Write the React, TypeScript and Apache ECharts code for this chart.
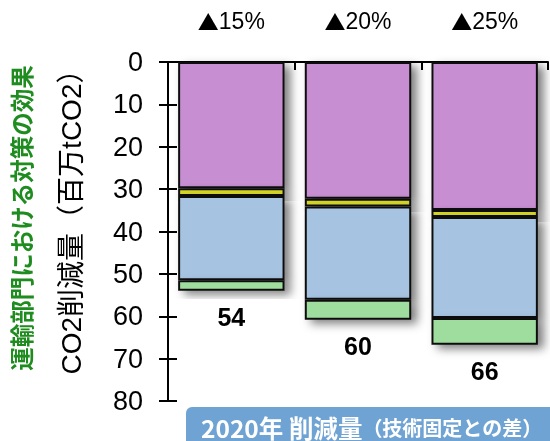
import React, { useEffect, useRef } from "react";
import * as echarts from "echarts";

const categories = ["▲15%", "▲20%", "▲25%"];
const purpleVals = [29.8, 32.3, 34.9];
const yellowVals = [1.8, 1.8, 1.7];
const blueVals = [19.9, 22.0, 23.8];
const greenVals = [2.5, 4.7, 6.3];
const totalLabels = ["54", "60", "66"];
const yTicks = { min: 0, max: 80, interval: 10 };

const FONT_LATIN = "'Liberation Sans', Arial, 'Noto Sans CJK JP', sans-serif";
const FONT_CJK = "'Noto Sans CJK JP', 'Liberation Sans', sans-serif";

export default function App() {
  const ref = useRef<HTMLDivElement>(null);
  useEffect(() => {
    if (!ref.current) return;
    const chart = echarts.init(ref.current, null, { renderer: "svg" });
    const border = { borderColor: "#111", borderWidth: 2, shadowColor: "rgba(0,0,0,0.5)", shadowBlur: 10, shadowOffsetX: 6, shadowOffsetY: 4 };
    const mk = (name: string, data: number[], color: string) => ({
      name,
      type: "bar",
      stack: "s",
      data,
      barCategoryGap: "16%",
      itemStyle: { color, ...border },
      yAxisIndex: 0,
    });
    const sums = purpleVals.map((v, i) => v + yellowVals[i] + blueVals[i] + greenVals[i]);
    chart.setOption({
      animation: false,
      grid: { left: 168, right: 2, top: 62, bottom: 40 },
      xAxis: {
        type: "category",
        position: "top",
        data: categories,
        axisLine: { show: true, lineStyle: { color: "#000", width: 2 } },
        axisTick: { show: true, inside: true, length: 8, lineStyle: { color: "#000", width: 2 } },
        axisLabel: {
          margin: 30,
          color: "#000",
          formatter: (v: string) => "{t|▲}{n|" + v.replace("▲", "") + "}",
          rich: {
            t: { fontSize: 21, color: "#000", fontFamily: FONT_CJK },
            n: { fontSize: 23, color: "#000", fontFamily: FONT_LATIN },
          },
        },
      },
      yAxis: [
        {
          type: "value",
          inverse: true,
          ...yTicks,
          position: "left",
          axisLine: { show: true, lineStyle: { color: "#000", width: 2 } },
          axisTick: { show: true, length: 9, lineStyle: { color: "#000", width: 2 } },
          axisLabel: { margin: 25, fontSize: 27, color: "#000", fontFamily: FONT_LATIN },
          splitLine: { show: false },
        },
        {
          type: "value",
          inverse: true,
          ...yTicks,
          position: "left",
          axisLine: { show: false },
          axisTick: { show: true, inside: true, length: 9, lineStyle: { color: "#000", width: 2 } },
          axisLabel: { show: false },
          splitLine: { show: false },
        },
      ],
      series: [
        mk("purple", purpleVals, "#c88ed2"),
        mk("yellow", yellowVals, "#d6d628"),
        mk("blue", blueVals, "#a6c4e2"),
        mk("green", greenVals, "#9edd9e"),
        {
          type: "scatter",
          data: sums,
          symbolSize: 0,
          z: 10,
          itemStyle: { color: "#000", opacity: 1 },
          label: {
            show: true,
            position: "inside",
            offset: [0, 26],
            formatter: (p: any) => totalLabels[p.dataIndex],
            fontSize: 25,
            fontWeight: "bold",
            color: "#000",
            opacity: 1,
            textBorderWidth: 0,
            fontFamily: FONT_LATIN,
          },
        },
      ],
      graphic: [
        {
          type: "text",
          x: 21,
          y: 218,
          rotation: Math.PI / 2,
          style: {
            text: "運輸部門における対策の効果",
            fill: "#1f8c1f",
            fontSize: 23.5,
            fontWeight: "bold",
            fontFamily: FONT_CJK,
            align: "center",
            verticalAlign: "middle",
          },
        },
        {
          type: "text",
          x: 71,
          y: 215,
          rotation: Math.PI / 2,
          style: {
            text: "CO2削減量（百万tCO2）",
            fill: "#000",
            fontSize: 28,
            fontFamily: FONT_LATIN,
            align: "center",
            verticalAlign: "middle",
          },
        },
        {
          type: "rect",
          shape: { x: 186, y: 407, width: 400, height: 44, r: 6 },
          style: { fill: "#6fa3d3" },
        },
        {
          type: "text",
          x: 201,
          y: 427,
          style: {
            text: "{a|2020年 削減量}{b|（技術固定との差）}",
            verticalAlign: "middle",
            align: "left",
            rich: {
              a: { fontSize: 24.5, lineHeight: 22, fontWeight: "bold", fill: "#fff", fontFamily: FONT_CJK },
              b: { fontSize: 20, lineHeight: 22, fontWeight: "bold", fill: "#fff", fontFamily: FONT_CJK },
            },
          },
        },
      ],
    });
    return () => chart.dispose();
  }, []);
  return <div ref={ref} style={{ position: "fixed", left: 0, top: 0, width: 550, height: 441 }} />;
}
